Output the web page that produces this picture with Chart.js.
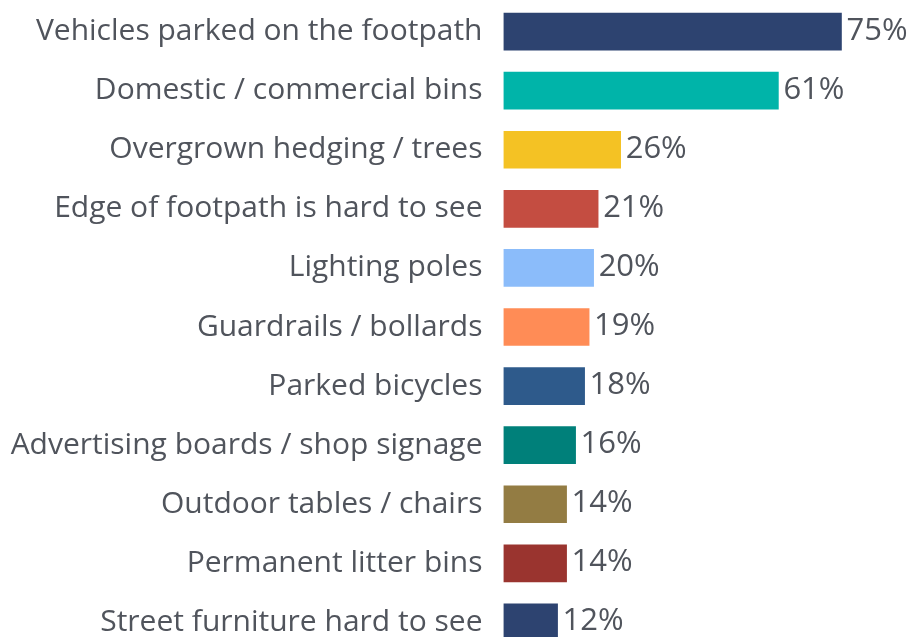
<!DOCTYPE html>
<html>
<head>
<meta charset="utf-8">
<script src="https://cdn.jsdelivr.net/npm/chart.js@4.4.1/dist/chart.umd.min.js"></script>
<style>
  html, body { margin: 0; padding: 0; background: #ffffff; overflow: hidden; }
  #wrap { position: relative; width: 914px; height: 652px; }
</style>
</head>
<body>
<div id="wrap"><canvas id="obstacleChart"></canvas></div>
<script>
// ==========================================
// DATA
// ==========================================
const categories = [
    'Vehicles parked on the footpath',
    'Domestic / commercial bins',
    'Overgrown hedging / trees',
    'Edge of footpath is hard to see',
    'Lighting poles',
    'Guardrails / bollards',
    'Parked bicycles',
    'Advertising boards / shop signage',
    'Outdoor tables / chairs',
    'Permanent litter bins',
    'Street furniture hard to see'
];
const percentages = [75, 61, 26, 21, 20, 19, 18, 16, 14, 14, 12];
const barColours = [
    '#2d4370', '#00b4a9', '#f4c224', '#c44d41', '#8bbcfa', '#ff8c56',
    '#2e5a8b', '#00807a', '#937c43', '#9a342f', '#2d4370'
];

const textColour = '#50545c';
const fontFamily = "'Open Sans', 'Noto Sans', sans-serif";

// value labels drawn at the end of each bar
const valueLabels = {
    id: 'valueLabels',
    afterDatasetsDraw(chart) {
        const ctx = chart.ctx;
        const meta = chart.getDatasetMeta(0);
        ctx.save();
        ctx.font = `31px ${fontFamily}`;
        ctx.fillStyle = textColour;
        ctx.textAlign = 'left';
        ctx.textBaseline = 'alphabetic';
        meta.data.forEach((bar, i) => {
            ctx.fillText(`${percentages[i]}%`, bar.x + 5, bar.y + 8);
        });
        ctx.restore();
    }
};

const ctx = document.getElementById('obstacleChart').getContext('2d');
new Chart(ctx, {
    type: 'bar',
    data: {
        labels: categories,
        datasets: [{
            data: percentages,
            backgroundColor: barColours,
            borderWidth: 0,
            barThickness: 37
        }]
    },
    options: {
        indexAxis: 'y',
        responsive: true,
        maintainAspectRatio: false,
        animation: false,
        layout: { padding: { top: 2, right: 50, bottom: 0, left: 0 } },
        plugins: {
            legend: { display: false },
            tooltip: { enabled: false }
        },
        scales: {
            x: {
                display: false,
                min: 0,
                max: 80
            },
            y: {
                grid: { display: false, drawTicks: false },
                border: { display: false },
                ticks: {
                    color: textColour,
                    padding: 21,
                    font: { family: fontFamily, size: 30 }
                },
                afterFit(scale) {
                    // fixed label column, no extra room above/below for tick labels
                    scale.width = 503.5;
                    scale.paddingTop = 0;
                    scale.paddingBottom = 0;
                }
            }
        }
    },
    plugins: [valueLabels]
});
</script>
</body>
</html>
